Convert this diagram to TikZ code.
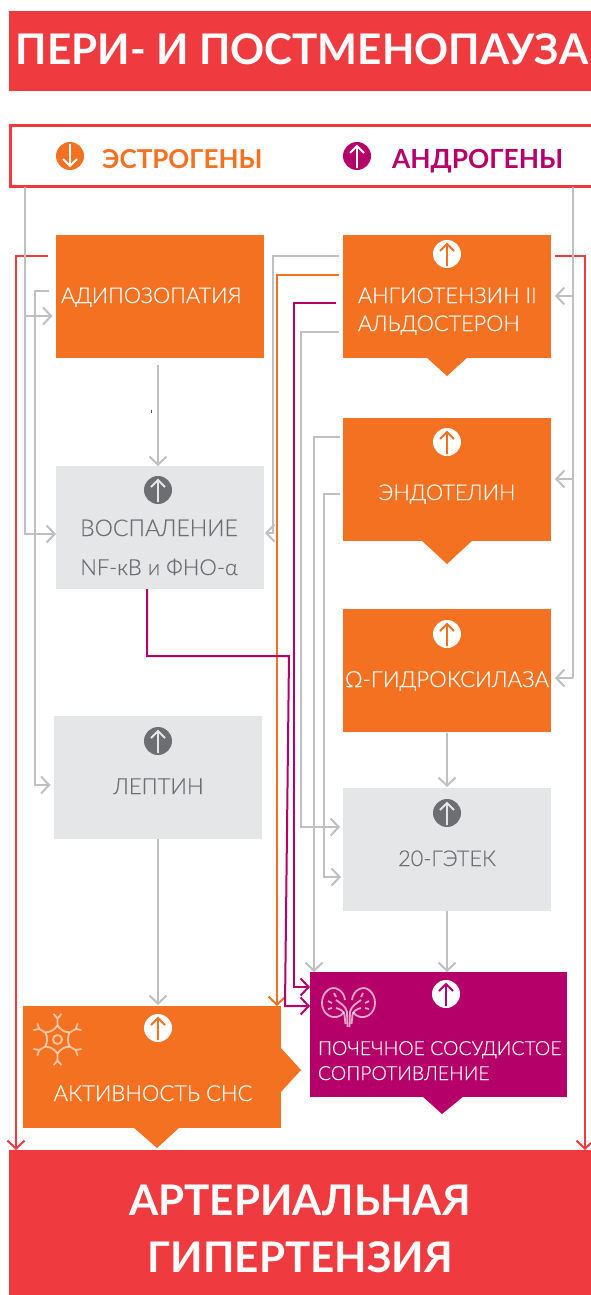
\documentclass[tikz,border=0pt]{standalone}
\usepackage{fontspec}
\setmainfont{Lato}
\newfontfamily\lightf[FakeBold=0.35]{Lato Light}
\usetikzlibrary{arrows.meta,calc}
\definecolor{ora}{HTML}{F47121}
\definecolor{redd}{HTML}{EF3A40}
\definecolor{mag}{HTML}{B5006A}
\definecolor{gbox}{HTML}{E5E6E8}
\definecolor{gdark}{HTML}{6D6E71}
\definecolor{gline}{HTML}{BFC0C2}
\tikzset{
  x=1pt,y=-1pt,
  box/.style={rectangle,inner sep=0,outer sep=0,minimum width=#1},
  obox/.style={box=208pt,minimum height=123pt,fill=ora},
  gybox/.style={box=208pt,minimum height=123pt,fill=gbox},
  conn/.style={line width=2pt,line join=miter,-{Straight Barb[length=8pt,width=17pt,line width=2pt]}},
  plain/.style={line width=2pt,line join=miter},
  wlab/.style={inner sep=0,outer sep=0,text=white,font=\lightf\fontsize{21.7}{24}\selectfont},
  glab/.style={inner sep=0,outer sep=0,text=gdark,font=\lightf\fontsize{21.7}{24}\selectfont},
  hlab/.style={inner sep=0,outer sep=0,font=\bfseries\fontsize{42.2}{46}\selectfont,text=white},
  icon/.style={circle,inner sep=0,minimum size=28pt,fill=#1},
  iarrow/.style={line width=1.8pt,#1},
}
\newcommand{\upicon}[5]{% name,x,y,bg,fg
  \node[icon=#4] (#1) at (#2,#3) {};
  \draw[iarrow=#5] (#2,#3+12) -- (#2,#3-10) (#2-7,#3-3) -- (#2,#3-10) -- (#2+7,#3-3);
}
\newcommand{\kidhalf}{%
  \draw (345,1000) .. controls (344,990) and (334,985) .. (328,990)
        .. controls (320,996) and (320,1010) .. (328,1015)
        .. controls (334,1019) and (341,1017) .. (344,1012);
  \draw (336,1000) .. controls (340,1003) and (346,1006) .. (347,1012) -- (347.5,1027);
  \draw (336,1008) .. controls (340,1009) and (344,1011) .. (344.5,1015) -- (345.5,1024);
  \draw (328,1001) -- (332,1003) (328,1009) -- (332,1008) (334,993) -- (336,997);
}
\begin{document}
\begin{tikzpicture}
\useasboundingbox (0,0) rectangle (590,1295);
\fill[white] (0,0) rectangle (590,1295);
% title and outcome
\node[box=582pt,minimum height=80pt,fill=redd,anchor=north west] (title) at (9,11) {};
\node[hlab,anchor=base] (titleT) at (302,65) {ПЕРИ- И ПОСТМЕНОПАУЗА};
\node[box=582pt,minimum height=145pt,fill=redd,anchor=north west] (ag) at (9,1150) {};
\node[hlab,anchor=base] (agT1) at (300,1215) {АРТЕРИАЛЬНАЯ};
\node[hlab,anchor=base] (agT2) at (300.5,1272) {ГИПЕРТЕНЗИЯ};
% hormones
\node[box=582pt,minimum height=61pt,draw=redd,line width=2.5pt,anchor=north west] (horm) at (10.5,125.5) {};
\node[icon=ora] (eIc) at (70,156) {};
\draw[iarrow=white] (70,144) -- (70,166) (63,159) -- (70,166) -- (77,159);
\node[inner sep=0,anchor=base west,text=ora,font=\bfseries\fontsize{26}{28}\selectfont] (eT) at (102,168) {ЭСТРОГЕНЫ};
\node[icon=mag] (aIc) at (357,156) {};
\draw[iarrow=white] (357,168) -- (357,146) (350,153) -- (357,146) -- (364,153);
\node[inner sep=0,anchor=base west,text=mag,font=\bfseries\fontsize{26.3}{28}\selectfont] (aT) at (392,168) {АНДРОГЕНЫ};
% boxes
\node[obox,anchor=north west] (adipo) at (56,235) {};
\node[wlab,anchor=base west] (adipoT) at (61,303) {АДИПОЗОПАТИЯ};
\fill[ora] (425,356) -- (447,376) -- (469,356) -- cycle;
\node[obox,anchor=north west] (angio) at (343,235) {};
\upicon{angioI}{447}{254}{white}{ora}
\node[wlab,anchor=base west] (angioT1) at (358,303) {АНГИОТЕНЗИН II};
\node[wlab,anchor=base west] (angioT2) at (358,331) {АЛЬДОСТЕРОН};
\fill[ora] (420,539) -- (447,564) -- (474,539) -- cycle;
\node[obox,anchor=north west] (endo) at (343,418) {};
\upicon{endoI}{447}{442}{white}{ora}
\node[wlab,anchor=base] (endoT) at (447,500) {ЭНДОТЕЛИН};
\node[obox,anchor=north west] (omega) at (343,609) {};
\upicon{omegaI}{447}{634}{white}{ora}
\node[wlab,anchor=base,font=\lightf\fontsize{22.2}{24}\selectfont] (omegaT) at (447,687) {Ω-ГИДРОКСИЛАЗА};
\node[gybox,anchor=north west] (hete) at (343,788) {};
\upicon{heteI}{447}{813}{gdark}{gbox}
\node[glab,anchor=base] (heteT) at (447,866) {20-ГЭТЕК};
\node[gybox,anchor=north west] (vosp) at (56,466) {};
\upicon{vospI}{158}{490}{gdark}{gbox}
\node[glab,anchor=base,font=\lightf\fontsize{23}{24}\selectfont] (vospT1) at (159,536) {ВОСПАЛЕНИЕ};
\node[glab,anchor=base,font=\lightf\fontsize{22}{24}\selectfont] (vospT2) at (159,575) {NF-кB и ФНО-α};
\node[gybox,anchor=north west] (lept) at (54,716) {};
\upicon{leptI}{158}{741}{gdark}{gbox}
\node[glab,anchor=base,font=\lightf\fontsize{22}{24}\selectfont] (leptT) at (158.5,794) {ЛЕПТИН};
% SNS
\fill[ora] (133,1127) -- (157,1148) -- (180,1127) -- cycle;
\fill[ora] (280,1047) -- (301,1070) -- (280,1093) -- cycle;
\node[box=258pt,minimum height=122pt,fill=ora,anchor=north west] (sns) at (23,1006) {};
\upicon{snsI}{158}{1028}{white}{ora}
\node[wlab,anchor=base,font=\lightf\fontsize{22}{24}\selectfont] (snsT) at (153,1101) {АКТИВНОСТЬ СНС};
% neuron icon
\begin{scope}[shift={(57.5,1039.5)},draw=white,draw opacity=.6,line width=1.8pt]
  \draw (0,0) circle (4.5);
  \foreach \a in {90,150,210,270,330,30}{
    \draw (\a:14) .. controls (\a+20:10) and (\a+40:10) .. (\a+60:14);
    \draw (\a:14) -- (\a:21) -- ($(\a:21)+(\a+40:6)$) (\a:21) -- ($(\a:21)+(\a-40:6)$);
  }
\end{scope}
% kidney
\fill[mag] (422,1096) -- (442,1114) -- (464,1096) -- cycle;
\node[box=257pt,minimum height=125pt,fill=mag,anchor=north west] (kid) at (310,972) {};
\upicon{kidI}{446}{994}{white}{mag}
\begin{scope}[draw=white,draw opacity=.65,line width=1.8pt]
  \kidhalf
  \begin{scope}[shift={(697,0)},xscale=-1]
    \kidhalf
  \end{scope}
\end{scope}
\node[wlab,anchor=base west,font=\lightf\fontsize{19.4}{22}\selectfont] (kidT1) at (318,1055) {ПОЧЕЧНОЕ СОСУДИСТОЕ};
\node[wlab,anchor=base west,font=\lightf\fontsize{19.4}{22}\selectfont] (kidT2) at (318,1080) {СОПРОТИВЛЕНИЕ};
% stray mark of the reference
\fill[black!70] (150.6,409.5) rectangle (151.6,412.5);
% red connectors
\draw[conn,draw=redd] ([xshift=-8]adipo.west |- 0,256) -- (16,256) -- (16,0 |- ag.north);
\draw[conn,draw=redd] ([xshift=4]angio.east |- 0,256) -- (585,256) -- (585,0 |- ag.north);
% grey connectors
\draw[plain,draw=gline] (24.5,187) -- (24.5,316);
\draw[conn,draw=gline] (24.5,187) -- (24.5,534) -- (vosp.west |- 0,534);
\draw[conn,draw=gline] (24.5,316) -- ([xshift=-3.5]adipo.west |- 0,316);
\draw[conn,draw=gline] ([xshift=-7]adipo.west |- 0,291) -- (35,291) -- (35,785) -- ([xshift=-3.5]lept.west |- 0,785);
\draw[conn,draw=gline] (158,365) -- (158,0 |- vosp.north);
\draw[conn,draw=gline] ([xshift=-4]angio.west |- 0,256) -- (273,256) -- (273,533) -- ([xshift=1]vosp.east |- 0,533);
\draw[conn,draw=ora] ([xshift=-4]angio.west |- 0,275) -- (277,275) -- (277,1006);
\draw[conn,draw=mag] ([xshift=-7]angio.west |- 0,303) -- (294,303) -- (294,987) -- (kid.west |- 0,987);
\draw[conn,draw=mag] (147,589) -- (147,656) -- (289,656) -- (285,1006) -- (kid.west |- 0,1006);
\draw[conn,draw=gline] ([xshift=-4]angio.west |- 0,332) -- (301,332) -- (301,827) -- ([xshift=-3]hete.west |- 0,827);
\draw[conn,draw=gline] ([xshift=-3]endo.west |- 0,437) -- (314,437) -- (314,972);
\draw[conn,draw=gline] ([xshift=-3]endo.west |- 0,494) -- (324,494) -- (324,877) -- ([xshift=-2]hete.west |- 0,877);
\draw[plain,draw=gline] (573,187) -- (573,678);
\draw[conn,draw=gline] (573,296) -- ([xshift=4]angio.east |- 0,296);
\draw[conn,draw=gline] (573,479) -- ([xshift=4]endo.east |- 0,479);
\draw[conn,draw=gline] (573,678) -- ([xshift=4]omega.east |- 0,678);
\draw[conn,draw=gline] (447,733) -- (447,787);
\draw[conn,draw=gline] (hete.south) -- (447,972);
\draw[conn,draw=gline] (lept.south) -- (158,1005);
\end{tikzpicture}
\end{document}
